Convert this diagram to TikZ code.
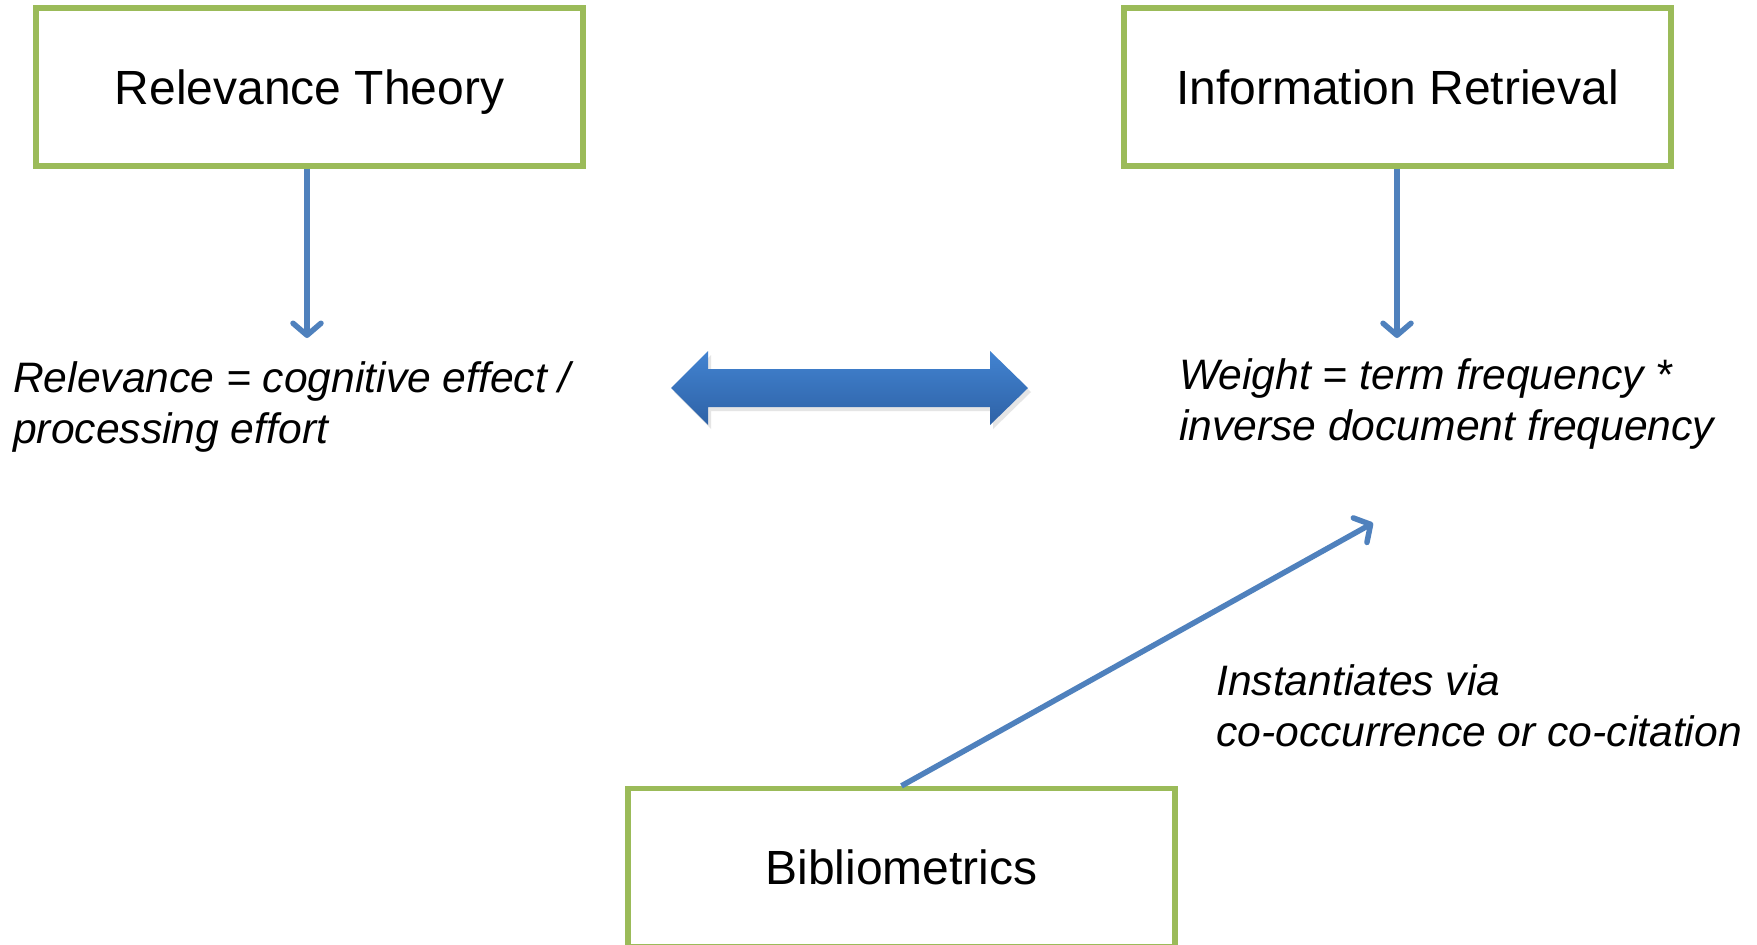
\documentclass[tikz,border=0pt]{standalone}
\usepackage{fontspec}
\setmainfont{Liberation Sans}
\usetikzlibrary{arrows.meta}
\definecolor{boxgreen}{HTML}{9BBB59}
\definecolor{lineblue}{HTML}{4F81BD}
\definecolor{arrtop}{HTML}{4283D1}
\definecolor{arrbot}{HTML}{2E62A6}
\tikzset{
  topicbox/.style={draw=boxgreen, line width=5.3pt, minimum width=547pt, minimum height=158pt, inner sep=0pt, text height=34pt, text depth=0pt, font=\fontsize{48}{58}\selectfont},
  formula/.style={inner sep=0pt, align=left, anchor=west, font=\fontsize{42.6}{51}\selectfont\itshape},
  link/.style={draw=lineblue, line width=5.5pt, -{Straight Barb[length=12pt,width=28pt,line width=5.5pt,round]}},
}
\begin{document}
\begin{tikzpicture}[x=1pt,y=-1pt]
\useasboundingbox (0,0) rectangle (1757,945);
\fill[white] (0,0) rectangle (1757,945);
\node[topicbox] (rt) at (309.5,87) {Relevance Theory};
\node[topicbox] (ir) at (1397.5,87) {Information Retrieval};
\node[topicbox] (bib) at (901.5,867.5) {Bibliometrics};
\node[formula] (rel) at (13,406.5) {Relevance = cognitive effect /\\processing effort};
\node[formula] (wt) at (1179,403.5) {Weight = term frequency *\\inverse document frequency};
\node[formula] (inst) at (1216,706) {Instantiates via\\co-occurrence or co-citation};
\coordinate (rtend) at (307,338);
\coordinate (irend) at (1397,338);
\coordinate (bibend) at (1373,523);
\draw[link] (rt.south -| rtend) -- (rtend);
\draw[link] (ir.south -| irend) -- (irend);
\draw[link] (bib.north) -- (bibend);
% double arrow with shadow
\fill[black!20, opacity=0.5] (674,392) -- (711,355) -- (711,373) -- (993,373) -- (993,355) -- (1031,392) -- (993,429) -- (993,411) -- (711,411) -- (711,429) -- cycle;
\shade[top color=arrtop, bottom color=arrbot] (671,388) -- (708,351) -- (708,369) -- (990,369) -- (990,351) -- (1028,388) -- (990,425) -- (990,407) -- (708,407) -- (708,425) -- cycle;
\end{tikzpicture}
\end{document}
